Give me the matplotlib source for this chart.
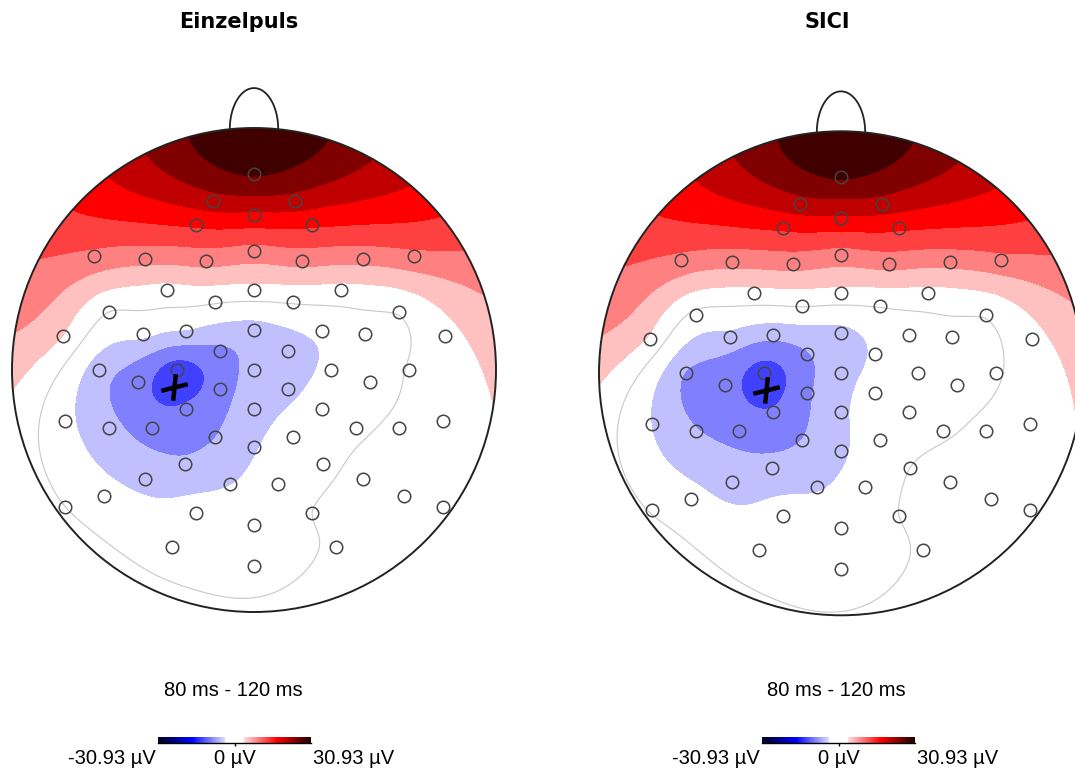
import matplotlib
matplotlib.use('Agg')
import matplotlib.pyplot as plt
import numpy as np
from matplotlib.patches import Circle
from matplotlib.path import Path

plt.rcParams['font.family'] = ['Liberation Sans', 'DejaVu Sans']

# electrode layout (head radius = 1), row by row from front to back
ELEC_X = [0.0,
          -0.17, 0.17,
          0.0,
          -0.24, 0.24,
          -0.66, -0.45, -0.20, 0.0, 0.20, 0.45, 0.66,
          -0.36, 0.0, 0.36,
          -0.16, 0.16,
          -0.60, 0.60,
          -0.79, -0.46, -0.28, 0.0, 0.28, 0.46, 0.79,
          -0.14, 0.14,
          -0.64, -0.32, 0.0, 0.32, 0.64,
          -0.48, -0.14, 0.14, 0.48,
          -0.28, 0.0, 0.28,
          -0.78, -0.60, -0.42, -0.16, 0.0, 0.16, 0.42, 0.60, 0.78,
          -0.285, 0.285,
          -0.45, -0.10, 0.10, 0.45,
          -0.62, 0.62,
          -0.78, 0.78,
          -0.24, 0.0, 0.24,
          -0.34, 0.34,
          0.0]
ELEC_Y = [0.81,
          0.70, 0.70,
          0.64,
          0.60, 0.60,
          0.47, 0.46, 0.45, 0.49, 0.45, 0.46, 0.47,
          0.33, 0.33, 0.33,
          0.28, 0.28,
          0.24, 0.24,
          0.14, 0.15, 0.16, 0.165, 0.16, 0.15, 0.14,
          0.08, 0.08,
          0.0, 0.0, 0.0, 0.0, 0.0,
          -0.05, -0.08, -0.08, -0.05,
          -0.16, -0.16, -0.16,
          -0.21, -0.24, -0.24, -0.275, -0.32, -0.275, -0.24, -0.24, -0.21,
          -0.39, -0.39,
          -0.45, -0.47, -0.47, -0.45,
          -0.52, -0.52,
          -0.565, -0.565,
          -0.59, -0.64, -0.59,
          -0.73, -0.73,
          -0.81]

# mittlere Amplitude 80-120 ms (µV) je Elektrode
VALS_EINZEL = [27.4,
               21.6, 21.6,
               18.5,
               16, 16,
               10.5, 9, 9, 10, 9, 9, 10.5,
               2.5, 2.5, 2.5,
               0.3, 0.3,
               0, 0.3,
               3.8, -3, -4.2, -5.5, -3, -1.5, 2.5,
               -8.5, -5.5,
               -6, -13.5, -6.5, -3, 0.2,
               -10, -9.5, -4.8, -1.5,
               -11, -5.5, -2,
               -2.8, -6.5, -9.5, -7.8, -4.2, -2.5, -0.5, 0.5, 1.3,
               -7, -0.8,
               -5, -4, -2, 0.8,
               -2.5, 0.8,
               0, 1.0,
               -2.5, -2.2, 0,
               -2.2, 0.5,
               -2.4]
VALS_SICI = [27.4,
             21.6, 21.6,
             18.5,
             16, 16,
             10.5, 9, 9, 10, 9, 9, 10.5,
             2.5, 2.5, 2.5,
             0.3, 0.3,
             -1, 0.3,
             3.2, -5, -6.5, -5, -2, -1, 2.5,
             -8, -3.5,
             -8, -13.3, -5, -2, -0.3,
             -10, -8.5, -3, -1,
             -11.2, -4.5, -1.5,
             -4, -7.5, -9, -7.7, -4.5, -2, -0.3, 0.5, 1.5,
             -6.5, 0,
             -5.5, -4.2, -2, 0.8,
             -2.5, 1,
             -0.3, 1,
             -2.5, -2.5, 0,
             -2.5, 0.5,
             -3.5]

TITLES = ['Einzelpuls', 'SICI']
CROSS = [(-0.331, -0.072), (-0.311, -0.069)]
VMAX = 30.93
TIME_LABEL = '80 ms - 120 ms'

# 16 Stufen, weiss um 0
band_colors = ['#000040', '#000080', '#0000c0', '#0000ff', '#4040ff', '#8080ff', '#c0c0ff', '#ffffff',
               '#ffffff', '#ffc0c0', '#ff8080', '#ff4040', '#ff0000', '#c00000', '#800000', '#400000']
levels = np.linspace(-VMAX, VMAX, 17)

# schiefes Kreuz als Marker
cross_marker = Path([(-1, -0.25), (1, 0.25), (0.1, 1), (-0.1, -1)],
                    [Path.MOVETO, Path.LINETO, Path.MOVETO, Path.LINETO])


def v4_interp(x, y, v, gx, gy):
    """biharmonische Spline-Interpolation (wie griddata 'v4')"""
    x = np.asarray(x); y = np.asarray(y); v = np.asarray(v, float)
    d = np.hypot(x[:, None] - x[None, :], y[:, None] - y[None, :])
    with np.errstate(divide='ignore', invalid='ignore'):
        g = np.where(d > 0, d ** 2 * (np.log(d) - 1), 0.0)
    w = np.linalg.solve(g, v)
    dg = np.hypot(gx.ravel()[:, None] - x[None, :], gy.ravel()[:, None] - y[None, :])
    with np.errstate(divide='ignore', invalid='ignore'):
        G = np.where(dg > 0, dg ** 2 * (np.log(dg) - 1), 0.0)
    return (G @ w).reshape(gx.shape)


fig = plt.figure(figsize=(10.75, 7.83), dpi=100)
W, H = 1075, 783

heads = [(254, 370), (841, 373.3)]
R = 242
title_x = [239, 827]
text_x = [233, 836]
cbar_x = [(158, 311), (762, 915)]

gx, gy = np.meshgrid(np.linspace(-1.02, 1.02, 260), np.linspace(-1.02, 1.02, 260))

for i, vals in enumerate([VALS_EINZEL, VALS_SICI]):
    cx, cy = heads[i]
    x0, x1, y0, y1 = -1.05, 1.05, -1.05, 1.2
    left = cx + x0 * R
    bottom = cy - y0 * R
    ax = fig.add_axes([left / W, 1 - bottom / H, (x1 - x0) * R / W, (y1 - y0) * R / H])
    ax.set_xlim(x0, x1)
    ax.set_ylim(y0, y1)
    ax.axis('off')

    zi = v4_interp(ELEC_X, ELEC_Y, vals, gx, gy)
    zi = np.clip(zi, -VMAX + 0.01, VMAX - 0.01)
    clip = Circle((0, 0), 1.0, transform=ax.transData)
    cs = ax.contourf(gx, gy, zi, levels=levels, colors=band_colors)
    cs.set_clip_path(clip)
    cl = ax.contour(gx, gy, zi, levels=[0], colors='#c8c8c8', linewidths=0.8)
    cl.set_clip_path(clip)

    # Kopf + Nase
    ax.add_patch(Circle((0, 0), 1.0, fill=False, ec='#222222', lw=1.4, zorder=5))
    t = np.linspace(0, np.pi, 60)
    ax.plot(0.1 * np.cos(t), 0.995 + 0.17 * np.sin(t), color='#222222', lw=1.3, zorder=5)

    ax.plot(ELEC_X, ELEC_Y, 'o', mfc='none', mec='#444444', ms=9, mew=1.1, zorder=6)
    ax.plot(*CROSS[i], marker=cross_marker, color='black', ms=19, mew=3.2, zorder=7)

    fig.text(title_x[i] / W, 1 - 22 / H, TITLES[i], ha='center', va='center',
             fontsize=15, fontweight='bold', family=['DejaVu Sans'])
    fig.text(text_x[i] / W, 1 - 690 / H, TIME_LABEL, ha='center', va='center', fontsize=14.5)

    # Farbskala
    c0, c1 = cbar_x[i]
    cax = fig.add_axes([c0 / W, 1 - 743 / H, (c1 - c0) / W, 6 / H])
    tt = np.linspace(-1, 1, 64)
    anchors_t = [0.125, 0.1875, 0.3125, 0.4375, 0.5625, 0.6875, 0.8125, 0.9375, 1.0]
    anchors_c = np.array([[1, .86, .86], [1, .75, .75], [1, .5, .5], [1, .25, .25], [1, 0, 0],
                          [.75, 0, 0], [.5, 0, 0], [.25, 0, 0], [.15, 0, 0]])
    cols = []
    for v in tt:
        a = abs(v)
        if a < 0.125:
            cols.append([1, 1, 1])
            continue
        c = [np.interp(a, anchors_t, anchors_c[:, k]) for k in range(3)]
        cols.append(c if v > 0 else c[::-1])
    cax.imshow(np.array(cols)[None, :, :], aspect='auto', extent=(-VMAX, VMAX, 0, 1))
    for s in ['top', 'left', 'right']:
        cax.spines[s].set_visible(False)
    cax.spines['bottom'].set_linewidth(1.0)
    cax.set_yticks([])
    cax.set_xticks([0])
    cax.set_xticklabels([])
    cax.tick_params(axis='x', length=2, width=1)

    fig.text((c0 - 2) / W, 1 - 758 / H, f'-{VMAX:.2f} µV', ha='right', va='center', fontsize=14.5)
    fig.text((c0 + c1) / 2 / W, 1 - 758 / H, '0 µV', ha='center', va='center', fontsize=14.5)
    fig.text((c1 + 2) / W, 1 - 758 / H, f'{VMAX:.2f} µV', ha='left', va='center', fontsize=14.5)

fig.savefig('out.png', dpi=100)
